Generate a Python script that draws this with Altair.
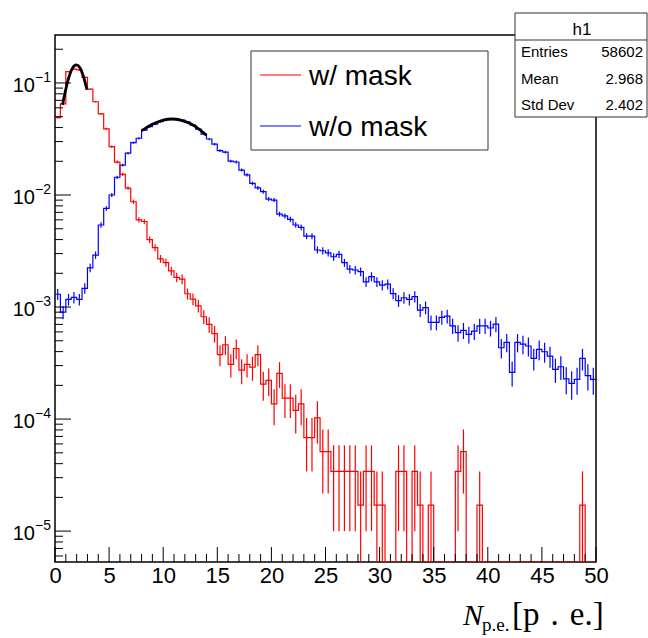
import altair as alt
import pandas as pd
import numpy as np

# ---------------- data ----------------
N_RED = 58602          # entries of h1 (w/ mask), used for normalisation
N_BLUE = 60000         # approximate entries of the w/o mask histogram
BIN_WIDTH = 0.5
X_MIN, X_MAX = 0.0, 50.0
Y_MIN, Y_MAX = 5.3e-6, 0.268
FLOOR = 1e-7           # stands in for an empty bin on the log axis (drawn at the bottom)

RED_COUNTS = [2871, 3809, 7384, 7794, 7677, 6563, 5157, 3985, 3106, 2285,
              1582, 1154, 897, 674, 510, 352, 340, 234, 199, 158,
              146, 123, 108, 104, 77, 69, 60, 48, 41, 34,
              22, 27, 18, 25, 16, 18, 17, 22, 12, 13,
              8, 15, 9, 9, 7, 8, 4, 4, 6, 3,
              3, 2, 2, 2, 2, 2, 1, 2, 2, 1,
              1, 0, 0, 2, 2, 0, 2, 1, 0, 1,
              0, 0, 0, 0, 2, 3, 0, 0, 1, 0,
              0, 0, 0, 0, 0, 0, 0, 0, 0, 0,
              0, 0, 0, 0, 0, 0, 0, 1, 0, 0]

BLUE_VALUES = [0.00130, 0.00090, 0.00117, 0.00122, 0.00117, 0.00147, 0.00224, 0.00291, 0.0054, 0.0076,
               0.0100, 0.0144, 0.0185, 0.0236, 0.0293, 0.0321, 0.0380, 0.0407, 0.0428, 0.0451,
               0.0470, 0.0474, 0.0477, 0.0467, 0.0447, 0.0420, 0.0388, 0.0350, 0.0316, 0.0284,
               0.0249, 0.0241, 0.0201, 0.0197, 0.0167, 0.0151, 0.0127, 0.0116, 0.0107, 0.0092,
               0.0090, 0.00676, 0.0065, 0.00607, 0.0054, 0.00515, 0.0043, 0.0043, 0.00323, 0.00318,
               0.00305, 0.00281, 0.00295, 0.00249, 0.00218, 0.00214, 0.00207, 0.00168, 0.00187, 0.00168,
               0.00157, 0.00160, 0.00132, 0.00114, 0.00121, 0.00117, 0.00124, 0.00094, 0.00099, 0.00073,
               0.00073, 0.00081, 0.00083, 0.00068, 0.00059, 0.00062, 0.00057, 0.00061, 0.00068, 0.00068,
               0.00065, 0.000705, 0.000433, 0.000484, 0.000261, 0.000484, 0.000467, 0.000449, 0.000348, 0.000419,
               0.000399, 0.000365, 0.000278, 0.000293, 0.000228, 0.000208, 0.000226, 0.000348, 0.000244, 0.000226]

RED_FIT_X = [0.7, 1.0, 1.3, 1.6, 1.97, 2.3, 2.6, 2.95]
RED_FIT_Y = [0.064, 0.088, 0.114, 0.135, 0.145, 0.137, 0.117, 0.087]
BLUE_FIT_X = [8.0, 9.0, 10.0, 10.8, 11.6, 12.5, 13.3, 14.0]
BLUE_FIT_Y = [0.0375, 0.0429, 0.0467, 0.0477, 0.0467, 0.0434, 0.0388, 0.0341]

X_MAJOR = [0, 5, 10, 15, 20, 25, 30, 35, 40, 45, 50]
X_MINOR = [v for v in range(1, 50) if v % 5 != 0]
Y_MAJOR = [1e-1, 1e-2, 1e-3, 1e-4, 1e-5]
Y_EXP = ["\u22121", "\u22122", "\u22123", "\u22124", "\u22125"]
Y_MINOR = [m * 10.0 ** e for e in range(-6, 0) for m in range(2, 10)
           if Y_MIN <= m * 10.0 ** e <= Y_MAX]

LEGEND_LABELS = ["w/ mask", "w/o mask"]
STAT_TITLE = "h1"
STAT_NAMES = ["Entries", "Mean", "Std Dev"]
STAT_VALUES = ["58602", "2.968", "2.402"]
X_TITLE_MAIN = "N"
X_TITLE_SUB = "p.e."
X_TITLE_UNIT = "[p\u2004.\u2004e.]"

RED = "#ff0000"
BLUE = "#0000ff"
SANS = "Liberation Sans"
SERIF = "Liberation Serif"

W, H = 541, 527

# ---------------- tables ----------------
edges = [i * BIN_WIDTH for i in range(len(RED_COUNTS))]
centers = [e + BIN_WIDTH / 2 for e in edges]

red_vals = [max(c / N_RED, FLOOR) for c in RED_COUNTS]
red_step = pd.DataFrame({"x": edges + [X_MAX], "y": red_vals + [red_vals[-1]]})
red_err = pd.DataFrame({
    "x": [centers[i] for i, c in enumerate(RED_COUNTS) if c > 0],
    "lo": [max((c - np.sqrt(c)) / N_RED, FLOOR) for c in RED_COUNTS if c > 0],
    "hi": [(c + np.sqrt(c)) / N_RED for c in RED_COUNTS if c > 0],
})

blue_step = pd.DataFrame({"x": edges + [X_MAX], "y": BLUE_VALUES + [BLUE_VALUES[-1]]})
blue_err = pd.DataFrame({
    "x": centers,
    "lo": [v - np.sqrt(v / N_BLUE) for v in BLUE_VALUES],
    "hi": [v + np.sqrt(v / N_BLUE) for v in BLUE_VALUES],
})

red_fit = pd.DataFrame({"x": RED_FIT_X, "y": RED_FIT_Y})
blue_fit = pd.DataFrame({"x": BLUE_FIT_X, "y": BLUE_FIT_Y})

xs = alt.Scale(domain=[X_MIN, X_MAX], nice=False, zero=False)
ys = alt.Scale(type="log", domain=[Y_MIN, Y_MAX], nice=False, clamp=True)
x_axis = alt.Axis(values=X_MAJOR, ticks=False, domain=False, grid=False, title=None,
                  labelFont=SANS, labelFontSize=22, labelColor="black", labelPadding=3,
                  format="d", labelFlush=False)


def X(field="x"):
    return alt.X(f"{field}:Q", scale=xs, axis=x_axis)


def Y(field="y"):
    return alt.Y(f"{field}:Q", scale=ys, axis=None)


one = pd.DataFrame({"k": [0]})
layers = []

# histograms
layers.append(alt.Chart(blue_step).mark_line(interpolate="step-after", color=BLUE, strokeWidth=1.2, clip=True)
              .encode(x=X(), y=Y()))
layers.append(alt.Chart(blue_err).mark_rule(color=BLUE, strokeWidth=1.2, clip=True)
              .encode(x=X(), y=Y("lo"), y2="hi:Q"))
layers.append(alt.Chart(red_step).mark_line(interpolate="step-after", color=RED, strokeWidth=1.2, clip=True)
              .encode(x=X(), y=Y()))
layers.append(alt.Chart(red_err).mark_rule(color=RED, strokeWidth=1.2, clip=True)
              .encode(x=X(), y=Y("lo"), y2="hi:Q"))

# fits
for fit in (red_fit, blue_fit):
    layers.append(alt.Chart(fit).mark_line(interpolate="monotone", color="black", strokeWidth=2.8)
                  .encode(x=X(), y=Y()))

# ticks (drawn inside the frame, ROOT style)
layers.append(alt.Chart(pd.DataFrame({"x": X_MAJOR})).mark_rule(color="black", strokeWidth=1)
              .encode(x=X(), y=alt.value(H), y2=alt.value(H - 15)))
layers.append(alt.Chart(pd.DataFrame({"x": X_MINOR})).mark_rule(color="black", strokeWidth=1)
              .encode(x=X(), y=alt.value(H), y2=alt.value(H - 8)))
layers.append(alt.Chart(pd.DataFrame({"y": Y_MAJOR})).mark_rule(color="black", strokeWidth=1)
              .encode(y=Y(), x=alt.value(0), x2=alt.value(16)))
layers.append(alt.Chart(pd.DataFrame({"y": Y_MINOR})).mark_rule(color="black", strokeWidth=1)
              .encode(y=Y(), x=alt.value(0), x2=alt.value(8)))

# y labels 10^{-n}
ylab = pd.DataFrame({"y": Y_MAJOR, "exp": Y_EXP})
layers.append(alt.Chart(ylab).mark_text(align="right", baseline="middle", dy=3, font=SANS,
                                         fontSize=20, color="black", text="10")
              .encode(y=Y(), x=alt.value(-20)))
layers.append(alt.Chart(ylab).mark_text(align="left", baseline="middle", dy=-5, font=SANS,
                                         fontSize=14, color="black")
              .encode(y=Y(), x=alt.value(-20), text="exp:N"))

# x title  N_{p.e.} [p . e.]
layers.append(alt.Chart(one).mark_text(align="left", baseline="alphabetic", font=SERIF, fontStyle="italic",
                                        fontSize=30, color="black", text=X_TITLE_MAIN)
              .encode(x=alt.value(408), y=alt.value(590)))
layers.append(alt.Chart(one).mark_text(align="left", baseline="alphabetic", font=SERIF,
                                        fontSize=19, color="black", text=X_TITLE_SUB)
              .encode(x=alt.value(427), y=alt.value(596)))
layers.append(alt.Chart(one).mark_text(align="left", baseline="alphabetic", font=SERIF,
                                        fontSize=33, color="black", text=X_TITLE_UNIT)
              .encode(x=alt.value(457), y=alt.value(590)))

# legend box
layers.append(alt.Chart(one).mark_rect(fill="white", stroke="#333333", strokeWidth=1)
              .encode(x=alt.value(196), x2=alt.value(433), y=alt.value(16), y2=alt.value(115)))
for label, col, ly in zip(LEGEND_LABELS, [RED, BLUE], [40, 91]):
    layers.append(alt.Chart(one).mark_rule(color=col, strokeWidth=1.2)
                  .encode(x=alt.value(205), x2=alt.value(246), y=alt.value(ly)))
    layers.append(alt.Chart(one).mark_text(align="left", baseline="middle", font=SANS, fontSize=28,
                                            color="black", text=label)
                  .encode(x=alt.value(254), y=alt.value(ly + 2)))

# statistics box
layers.append(alt.Chart(one).mark_rect(fill="white", stroke="#333333", strokeWidth=1)
              .encode(x=alt.value(460), x2=alt.value(592), y=alt.value(-22), y2=alt.value(82)))
layers.append(alt.Chart(one).mark_rule(color="#333333", strokeWidth=1)
              .encode(x=alt.value(460), x2=alt.value(592), y=alt.value(5)))
layers.append(alt.Chart(one).mark_text(align="center", baseline="alphabetic", font=SANS, fontSize=17,
                                        color="black", text=STAT_TITLE)
              .encode(x=alt.value(527), y=alt.value(0)))
for i, (nm, val) in enumerate(zip(STAT_NAMES, STAT_VALUES)):
    yy = 22 + i * 26.7
    layers.append(alt.Chart(one).mark_text(align="left", baseline="alphabetic", font=SANS, fontSize=15,
                                            color="black", text=nm)
                  .encode(x=alt.value(466), y=alt.value(yy)))
    layers.append(alt.Chart(one).mark_text(align="right", baseline="alphabetic", font=SANS, fontSize=15,
                                            color="black", text=val)
                  .encode(x=alt.value(588), y=alt.value(yy)))

chart = (alt.layer(*layers)
         .properties(width=W, height=H, background="white",
                     padding={"left": 55, "top": 35, "right": 52, "bottom": 76},
                     autosize=alt.AutoSizeParams(type="none"))
         .configure_view(stroke="black", strokeWidth=1.5))

chart.save("out.html", embed_options={"renderer": "svg", "actions": False})
